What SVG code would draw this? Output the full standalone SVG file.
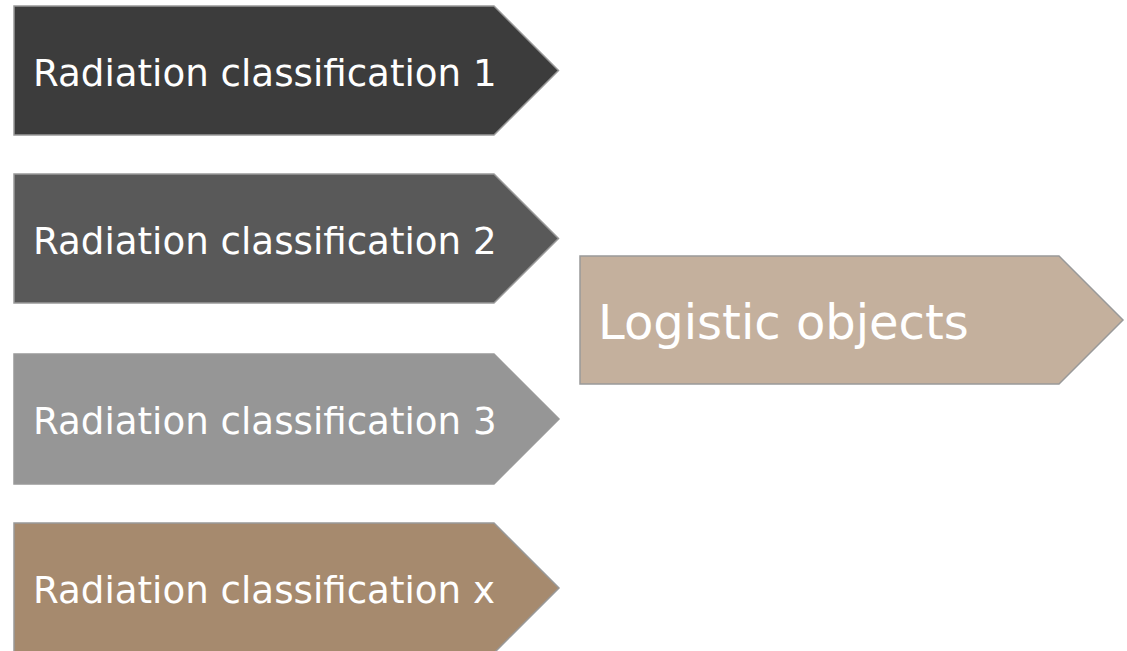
<svg xmlns="http://www.w3.org/2000/svg" width="1127" height="651" viewBox="0 0 1127 651">
<style>
.shape{stroke:#999999;stroke-width:1.5;stroke-linejoin:miter}
.lbl{font-family:"DejaVu Sans",Verdana,sans-serif;fill:#ffffff}
.small{font-size:37.2px}
.big{font-size:48px}
</style>
<rect width="1127" height="651" fill="#ffffff"/>
<g id="node-rc1">
<polygon class="shape" fill="#3c3c3c" points="14,6 494,6 558.5,70.5 494,135 14,135"/>
<text class="lbl small" x="33" y="85.5">Radiation classification 1</text>
</g>
<g id="node-rc2">
<polygon class="shape" fill="#595959" points="14,174 494,174 558.5,238.5 494,303 14,303"/>
<text class="lbl small" x="33" y="253.5">Radiation classification 2</text>
</g>
<g id="node-rc3">
<polygon class="shape" fill="#969696" stroke="#969696" points="14,354 494,354 559,419 494,484 14,484"/>
<text class="lbl small" x="33" y="434">Radiation classification 3</text>
</g>
<g id="node-rcx">
<polygon class="shape" fill="#a68a6e" points="14,523 494,523 559,588 494,653 14,653"/>
<text class="lbl small" x="33" y="603">Radiation classification x</text>
</g>
<g id="node-logistic">
<polygon class="shape" fill="#c4b09d" points="580,256 1059,256 1123,320 1059,384 580,384"/>
<text class="lbl big" x="598" y="338.5">Logistic objects</text>
</g>
<g id="connectors"></g>
</svg>
